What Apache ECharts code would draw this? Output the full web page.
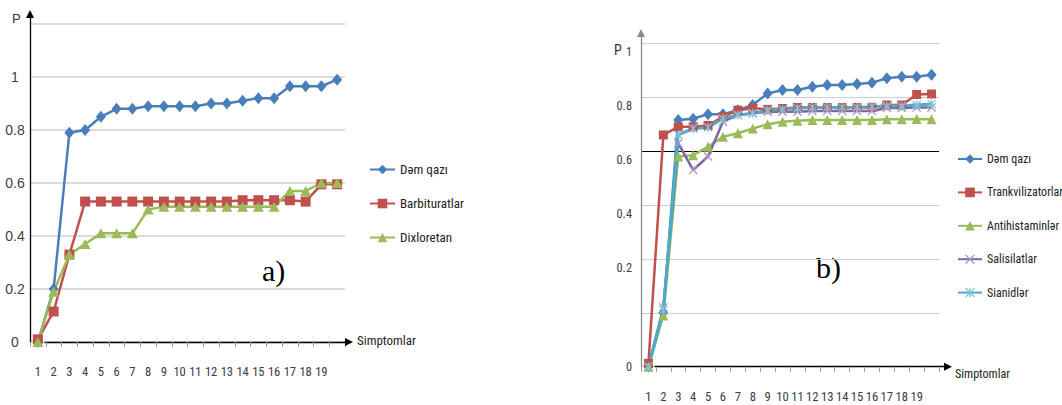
<!DOCTYPE html>
<html><head><meta charset="utf-8">
<script src="https://cdn.jsdelivr.net/npm/echarts@6/dist/echarts.min.js"></script>
<style>html,body{margin:0;padding:0;background:#fff}#c{width:1062px;height:405px}</style>
</head><body><div id="c"></div>
<script>
// ---------- data ----------
const categories = ['1','2','3','4','5','6','7','8','9','10','11','12','13','14','15','16','17','18','19','20'];
const xTickLabels = ['1','2','3','4','5','6','7','8','9','10','11','12','13','14','15','16','17','18','19',''];
const yTickLabelsA = ['0','0.2','0.4','0.6','0.8','1',''];
const yTickLabelsB = ['0','','0.2','0.4','0.6','0.8','1'];

// panel a)
const seriesNamesA = ['Dəm qazı','Barbituratlar','Dixloretan'];
const demQaziA = [0, 0.20, 0.79, 0.80, 0.85, 0.88, 0.88, 0.89, 0.89, 0.89, 0.89, 0.90, 0.90, 0.91, 0.92, 0.92, 0.965, 0.965, 0.965, 0.99];
const barbituratlarA = [0.01, 0.115, 0.33, 0.53, 0.53, 0.53, 0.53, 0.53, 0.53, 0.53, 0.53, 0.53, 0.53, 0.535, 0.535, 0.535, 0.535, 0.53, 0.595, 0.595];
const dixloretanA = [0, 0.19, 0.33, 0.37, 0.41, 0.41, 0.41, 0.50, 0.51, 0.51, 0.51, 0.51, 0.51, 0.51, 0.51, 0.51, 0.57, 0.57, 0.60, 0.60];

// panel b) (values on the drawn axis scale 0..1.2)
const seriesNamesB = ['Dəm qazı','Trankvilizatorlar','Antihistaminlər','Salisilatlar','Sianidlər'];
const demQaziB = [0, 0.20, 0.915, 0.92, 0.937, 0.937, 0.952, 0.971, 1.014, 1.027, 1.027, 1.039, 1.045, 1.045, 1.049, 1.054, 1.07, 1.076, 1.076, 1.083];
const trankvilizatorlarB = [0.012, 0.86, 0.89, 0.89, 0.895, 0.928, 0.952, 0.959, 0.955, 0.958, 0.962, 0.962, 0.962, 0.962, 0.962, 0.962, 0.971, 0.971, 1.01, 1.012];
const antihistaminlerB = [0, 0.19, 0.78, 0.785, 0.816, 0.853, 0.866, 0.884, 0.90, 0.909, 0.913, 0.915, 0.915, 0.915, 0.915, 0.915, 0.918, 0.918, 0.919, 0.918];
const salisilatlarB = [0, 0.22, 0.829, 0.73, 0.78, 0.909, 0.934, 0.94, 0.946, 0.946, 0.946, 0.949, 0.949, 0.949, 0.949, 0.949, 0.96, 0.96, 0.962, 0.962];
const sianidlerB = [0, 0.21, 0.86, 0.884, 0.888, 0.921, 0.934, 0.94, 0.952, 0.955, 0.959, 0.962, 0.962, 0.962, 0.962, 0.965, 0.967, 0.967, 0.971, 0.975];

// ---------- fonts ----------
const SANS = '"Liberation Sans",Arial,sans-serif';
const SERIF = '"Liberation Serif","Times New Roman",serif';
const mctx = document.createElement('canvas').getContext('2d');
function textW(text, size, fam) { mctx.font = size + 'px ' + fam; return mctx.measureText(text).width; }
// choose the narrowest installed sans family, then fit font sizes to the reference text widths
const famCands = ['"Liberation Sans Narrow"','"DejaVu Sans Condensed"','"Roboto Condensed"','Roboto','"Liberation Sans"'];
let NARROW_F = '"Liberation Sans"', best = Infinity;
for (const f of famCands) { const w = textW('Simptomlar Trankvilizatorlar 0123456789', 40, f); if (w < best - 0.5) { best = w; NARROW_F = f; } }
const NARROW = NARROW_F + ',"Liberation Sans",sans-serif';
function fit(text, targetW, maxSize) { return Math.min(maxSize, +(targetW / textW(text, 10, NARROW) * 10).toFixed(2)); }
const FS = {
  x: fit('10', 12.5, 14),
  legA: fit('Barbituratlar', 64, 14),
  legB: fit('Trankvilizatorlar', 76, 13),
  yB: fit('0.8', 15.5, 14),
  simA: fit('Simptomlar', 59, 14),
  simB: fit('Simptomlar', 55, 13.5),
  pB: 14
};

// ---------- styles ----------
const C = {blue:'#4A7EBB', red:'#C0504D', green:'#9BBB59', purple:'#8064A2', cyan:'#4BACC6'};
const SYM_X = 'path://M0,1L1,0L5,4L9,0L10,1L6,5L10,9L9,10L5,6L1,10L0,9L4,5Z';
const SYM_STAR = 'path://M0,1L1,0L5,4L9,0L10,1L6,5L10,9L9,10L5,6L1,10L0,9L4,5Z M4.3,0L5.7,0L5.7,10L4.3,10Z';

function line(name, data, color, symbol, size, axis, width, markerColor) {
  return {
    type:'line', name, data, xAxisIndex: axis, yAxisIndex: axis,
    symbol, symbolSize: size, showAllSymbol: true, animation: false,
    lineStyle:{color, width}, itemStyle:{color: markerColor || color}, emphasis:{disabled:true}
  };
}

const hiddenAxis = (g) => ({type:'value', gridIndex:g, show:false, min:0, max:1});
const arrowAxis = (g, color) => ({
  type:'value', gridIndex:g, min:0, max:1,
  axisLine:{show:true, onZero:false, symbol:['none','triangle'], symbolSize:[8,8], lineStyle:{color, width:1.3}},
  axisTick:{show:false}, axisLabel:{show:false}, splitLine:{show:false}
});
const catAxis = (g) => ({
  type:'category', gridIndex:g, data:categories, boundaryGap:true,
  axisLine:{show:false}, axisTick:{show:true, interval:0, length:5, lineStyle:{color:'#9a9a9a'}},
  axisLabel:{interval:0, margin:23, fontSize:FS.x, fontFamily:NARROW, color:'#404040', formatter:(v,i)=>xTickLabels[i]}
});

const chart = echarts.init(document.getElementById('c'), null, {renderer:'svg'});
chart.setOption({
  backgroundColor:'#fff',
  animation:false,
  grid:[
    {left:30, top:24, width:315, height:318},
    {left:45, top:24, width:304, height:318},
    {left:30, top:14, width:10, height:328},
    {left:641, top:43.3, width:298, height:323.4},
    {left:655, top:43.3, width:293, height:323.4},
    {left:641, top:33, width:10, height:333.7}
  ],
  xAxis:[ catAxis(0), arrowAxis(1,'#000'), hiddenAxis(2), catAxis(3), arrowAxis(4,'#000'), hiddenAxis(5) ],
  yAxis:[
    {type:'value', gridIndex:0, min:0, max:1.2, interval:0.2,
     axisLine:{show:false}, axisTick:{show:false},
     splitLine:{show:true, lineStyle:{color:'#cfcfcf', width:1.5}},
     axisLabel:{margin:15, align:'center', fontSize:14, fontFamily:SANS, color:'#404040',
       formatter:(v)=>yTickLabelsA[Math.round(v/0.2)]}},
    hiddenAxis(1),
    arrowAxis(2,'#000'),
    {type:'value', gridIndex:3, min:0, max:1.2, interval:0.2,
     axisLine:{show:false}, axisTick:{show:false},
     splitLine:{show:true, lineStyle:{color:['#cfcfcf','#cfcfcf','#cfcfcf','#cfcfcf','#000000','#cfcfcf','#cfcfcf'], width:1.2}},
     axisLabel:{margin:9, fontSize:FS.yB, fontFamily:NARROW, color:'#404040',
       formatter:(v)=>{const t = yTickLabelsB[Math.round(v/0.2)]; return t==='0' ? '{z|0}' : (t ? '{s|'+t+'}' : '');},
       rich:{z:{fontSize:FS.yB, fontFamily:NARROW, color:'#404040'}, s:{fontSize:FS.yB, fontFamily:NARROW, color:'#404040', padding:[18,0,0,0]}}}},
    hiddenAxis(4),
    arrowAxis(5,'#8a8a8a')
  ],
  legend:[
    {data:seriesNamesA, orient:'vertical', left:364, top:158, itemWidth:25, itemHeight:12, itemGap:21,
     selectedMode:false, textStyle:{fontSize:FS.legA, fontFamily:NARROW, color:'#222'}},
    {data:seriesNamesB, orient:'vertical', left:952, top:148, itemWidth:24, itemHeight:12, itemGap:21.4,
     selectedMode:false, textStyle:{fontSize:FS.legB, fontFamily:NARROW, color:'#222'}}
  ],
  graphic:[
    {type:'text', left:12, top:12, style:{text:'P', fontSize:13, fontFamily:SANS, fill:'#333'}},
    {type:'text', left:357, top:334, style:{text:'Simptomlar', fontSize:FS.simA, fontFamily:NARROW, fill:'#222'}},
    {type:'text', left:262, top:255, style:{text:'a)', fontSize:30, fontFamily:SERIF, fill:'#000'}},
    {type:'text', left:614, top:43, style:{text:'P', fontSize:FS.pB, fontFamily:NARROW, fill:'#333'}},
    {type:'text', left:955, top:368, style:{text:'Simptomlar', fontSize:FS.simB, fontFamily:NARROW, fill:'#222'}},
    {type:'text', left:816, top:252, style:{text:'b)', fontSize:30, fontFamily:SERIF, fill:'#000'}}
  ],
  series:[
    line(seriesNamesA[0], demQaziA, C.blue, 'diamond', [10,12], 0, 2.5),
    line(seriesNamesA[1], barbituratlarA, C.red, 'rect', 10, 0, 2.5),
    line(seriesNamesA[2], dixloretanA, C.green, 'triangle', [11,10], 0, 2.5),
    line(seriesNamesB[0], demQaziB, C.blue, 'diamond', [10,12], 3, 2.5),
    line(seriesNamesB[1], trankvilizatorlarB, C.red, 'rect', 9, 3, 2.5),
    line(seriesNamesB[2], antihistaminlerB, C.green, 'triangle', [10,10], 3, 2.5),
    line(seriesNamesB[3], salisilatlarB, C.purple, SYM_X, 9, 3, 2.5, '#a596c9'),
    line(seriesNamesB[4], sianidlerB, C.cyan, SYM_STAR, 9, 3, 3, '#7cc6dc')
  ]
});
</script></body></html>
